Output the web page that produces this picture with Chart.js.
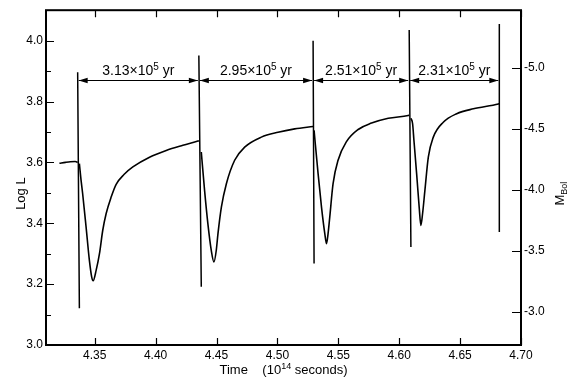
<!DOCTYPE html>
<html><head><meta charset="utf-8">
<script src="https://cdn.jsdelivr.net/npm/chart.js@4.4.1/dist/chart.umd.min.js"></script>
<style>html,body{margin:0;padding:0;background:#fff}canvas{display:block}</style>
</head><body>
<canvas id="c" width="570" height="383"></canvas>
<script>
// ---- data (time in 1e14 s, log L) ----
const xTicks = [4.35, 4.40, 4.45, 4.50, 4.55, 4.60, 4.65, 4.70];
const logLMajorTicks = [3.0, 3.2, 3.4, 3.6, 3.8, 4.0];
const logLMinorTicks = [3.1, 3.3, 3.5, 3.7, 3.9];
const mBolTicks = [-5.0, -4.5, -4.0, -3.5, -3.0];
const mBolZero = 4.775; // M_Bol = mBolZero - 2.5 * log L

const curveTime = [
  4.3210, 4.3260, 4.3300, 4.3340, 4.3360, null,
  4.3374, 4.3388, 4.3401, 4.3429, 4.3456, 4.3475, 4.3487, 4.3512, 4.3539, 4.3566,
  4.3594, 4.3635, 4.3676, 4.3740, 4.3813, 4.3950, 4.4087, 4.4224, 4.4347, 4.4355, null,
  4.4375, 4.4402, 4.4429, 4.4457, 4.4479, 4.4498, 4.4512, 4.4540, 4.4581, 4.4649,
  4.4731, 4.4868, 4.5005, 4.5142, 4.5293, null,
  4.5301, 4.5334, 4.5362, 4.5389, 4.5403, 4.5416, 4.5430, 4.5457, 4.5498, 4.5567,
  4.5663, 4.5773, 4.5910, 4.6074, 4.6082, null,
  4.6096, 4.6110, 4.6121, 4.6143, 4.6164, 4.6178, 4.6192, 4.6211, 4.6239, 4.6280,
  4.6362, 4.6472, 4.6609, 4.6814, 4.6822
];
const curveLogL = [
  3.597, 3.600, 3.602, 3.603, 3.600, null,
  3.596, 3.541, 3.497, 3.388, 3.279, 3.224, 3.211, 3.246, 3.300, 3.377,
  3.432, 3.486, 3.528, 3.560, 3.585, 3.617, 3.639, 3.656, 3.670, 3.671, null,
  3.634, 3.508, 3.399, 3.311, 3.273, 3.311, 3.366, 3.453, 3.530, 3.607,
  3.650, 3.683, 3.699, 3.710, 3.718, null,
  3.705, 3.563, 3.453, 3.366, 3.333, 3.366, 3.421, 3.530, 3.607, 3.668,
  3.708, 3.729, 3.745, 3.754, 3.755, null,
  3.745, 3.727, 3.672, 3.563, 3.453, 3.393, 3.432, 3.508, 3.617, 3.683,
  3.732, 3.760, 3.776, 3.792, 3.793
];

// helium shell flashes: vertical spikes
const pulseTopTime = [4.3360, 4.4355, 4.5293, 4.6082, 4.6822];
const pulseTopLogL = [3.896, 3.951, 4.000, 4.035, 4.055];
const pulseBottomTime = [4.3374, 4.4375, 4.5301, 4.6096, 4.6822];
const pulseBottomLogL = [3.121, 3.191, 3.268, 3.322, 3.371];

// interpulse periods (x 10^5 yr)
const intervalLabels = ['3.13', '2.95', '2.51', '2.31'];
const arrowLogL = 3.872;
const labelBaseLogL = 3.886;

// ---- build datasets ----
function buildPoints(xs, ys) {
  const pts = [];
  let lastX = xs[0];
  for (let i = 0; i < xs.length; i++) {
    if (xs[i] === null || ys[i] === null) pts.push({x: lastX, y: null});
    else { pts.push({x: xs[i], y: ys[i]}); lastX = xs[i]; }
  }
  return pts;
}
const pulseX = [], pulseY = [];
pulseTopTime.forEach((t, i) => {
  if (i > 0) { pulseX.push(null); pulseY.push(null); }
  pulseX.push(t, pulseBottomTime[i]);
  pulseY.push(pulseTopLogL[i], pulseBottomLogL[i]);
});

const FONT = "'Liberation Sans', Arial, sans-serif";

function drawRich(ctx, parts, cx, baseY) {
  let w = 0;
  parts.forEach(p => { ctx.font = p.size + 'px ' + FONT; p.w = ctx.measureText(p.t).width; w += p.w; });
  let x = cx - w / 2;
  ctx.textAlign = 'left';
  ctx.textBaseline = 'alphabetic';
  parts.forEach(p => { ctx.font = p.size + 'px ' + FONT; ctx.fillText(p.t, x, baseY + (p.dy || 0)); x += p.w; });
}

const decorPlugin = {
  id: 'decor',
  afterDraw(chart) {
    const {ctx, chartArea: a, scales} = chart;
    const xs = scales.x, ys = scales.y, ys2 = scales.y2;
    ctx.save();
    ctx.strokeStyle = '#000';
    ctx.fillStyle = '#000';
    // frame
    ctx.lineWidth = 2;
    ctx.strokeRect(a.left, a.top, a.right - a.left, a.bottom - a.top);
    // ticks (inward)
    ctx.lineWidth = 1.2;
    ctx.beginPath();
    xs.ticks.forEach(t => {
      const px = Math.round(xs.getPixelForValue(t.value)) + 0.5;
      ctx.moveTo(px, a.bottom); ctx.lineTo(px, a.bottom - 7);
      ctx.moveTo(px, a.top); ctx.lineTo(px, a.top + 7);
    });
    ys.ticks.forEach(t => {
      const py = Math.round(ys.getPixelForValue(t.value)) + 0.5;
      const len = t.label ? 8 : 5;
      ctx.moveTo(a.left, py); ctx.lineTo(a.left + len, py);
    });
    ys2.ticks.forEach(t => {
      const py = Math.round(ys2.getPixelForValue(t.value)) + 0.5;
      ctx.moveTo(a.right - 9, py); ctx.lineTo(a.right + 1, py);
    });
    ctx.stroke();

    // interval arrows and labels
    const ay = Math.round(ys.getPixelForValue(arrowLogL)) + 0.5;
    const ly = ys.getPixelForValue(labelBaseLogL);
    ctx.lineWidth = 1;
    for (let i = 0; i < intervalLabels.length; i++) {
      const x1 = xs.getPixelForValue(pulseTopTime[i]) + 1;
      const x2 = xs.getPixelForValue(pulseTopTime[i + 1]) - 1;
      ctx.beginPath(); ctx.moveTo(x1, ay); ctx.lineTo(x2, ay); ctx.stroke();
      ctx.beginPath();
      ctx.moveTo(x1, ay); ctx.lineTo(x1 + 9, ay - 2.8); ctx.lineTo(x1 + 9, ay + 2.8); ctx.closePath();
      ctx.moveTo(x2, ay); ctx.lineTo(x2 - 9, ay - 2.8); ctx.lineTo(x2 - 9, ay + 2.8); ctx.closePath();
      ctx.fill();
      drawRich(ctx, [
        {t: intervalLabels[i] + '\u00d710', size: 14},
        {t: '5', size: 10, dy: -5},
        {t: ' yr', size: 14}
      ], (x1 + x2) / 2, ly);
    }

    // axis titles
    const midY = (a.top + a.bottom) / 2 + 16;
    ctx.save();
    ctx.translate(25, midY); ctx.rotate(-Math.PI / 2);
    drawRich(ctx, [{t: 'Log L', size: 13}], 0, 0);
    ctx.restore();
    ctx.save();
    ctx.translate(564, midY); ctx.rotate(-Math.PI / 2);
    drawRich(ctx, [{t: 'M', size: 13}, {t: 'Bol', size: 9, dy: 3}], 0, 0);
    ctx.restore();
    drawRich(ctx, [
      {t: 'Time    (10', size: 13},
      {t: '14', size: 9, dy: -5},
      {t: ' seconds)', size: 13}
    ], (a.left + a.right) / 2, 374);
    ctx.restore();
  }
};

const tickFont = {family: FONT, size: 12};
new Chart(document.getElementById('c'), {
  type: 'line',
  data: {
    datasets: [
      {data: buildPoints(curveTime, curveLogL), borderColor: '#000', borderWidth: 1.6,
       pointRadius: 0, cubicInterpolationMode: 'monotone', spanGaps: false, xAxisID: 'x', yAxisID: 'y'},
      {data: buildPoints(pulseX, pulseY), borderColor: '#000', borderWidth: 1.5,
       pointRadius: 0, tension: 0, spanGaps: false, xAxisID: 'x', yAxisID: 'y'}
    ]
  },
  options: {
    responsive: false, animation: false, devicePixelRatio: 1,
    plugins: {legend: {display: false}, tooltip: {enabled: false}},
    layout: {padding: {top: 10, left: 0, right: 0, bottom: 0}},
    scales: {
      x: {
        type: 'linear', position: 'bottom', min: 4.31, max: 4.70,
        afterBuildTicks: s => { s.ticks = xTicks.map(v => ({value: v})); },
        afterFit: s => { s.height = 38; },
        ticks: {callback: v => v.toFixed(2), padding: 3, font: tickFont, color: '#000',
                maxRotation: 0, autoSkip: false},
        grid: {display: false, drawTicks: false}, border: {display: false}
      },
      y: {
        type: 'linear', position: 'left', min: 3.0, max: 4.1,
        afterBuildTicks: s => {
          s.ticks = logLMajorTicks.concat(logLMinorTicks).sort((p, q) => p - q).map(v => ({value: v}));
        },
        afterFit: s => { s.width = 46; },
        ticks: {
          callback: v => logLMajorTicks.some(m => Math.abs(m - v) < 1e-6) ? v.toFixed(1) : '',
          padding: 3, font: tickFont, color: '#000', autoSkip: false
        },
        grid: {display: false, drawTicks: false}, border: {display: false}
      },
      y2: {
        type: 'linear', position: 'right', reverse: true,
        min: mBolZero - 2.5 * 4.1, max: mBolZero - 2.5 * 3.0,
        afterBuildTicks: s => { s.ticks = mBolTicks.map(v => ({value: v})); },
        afterFit: s => { s.width = 49; },
        ticks: {callback: v => v.toFixed(1), padding: 3, font: tickFont, color: '#000', autoSkip: false},
        grid: {display: false, drawTicks: false}, border: {display: false}
      }
    }
  },
  plugins: [decorPlugin]
});
</script>
</body></html>
